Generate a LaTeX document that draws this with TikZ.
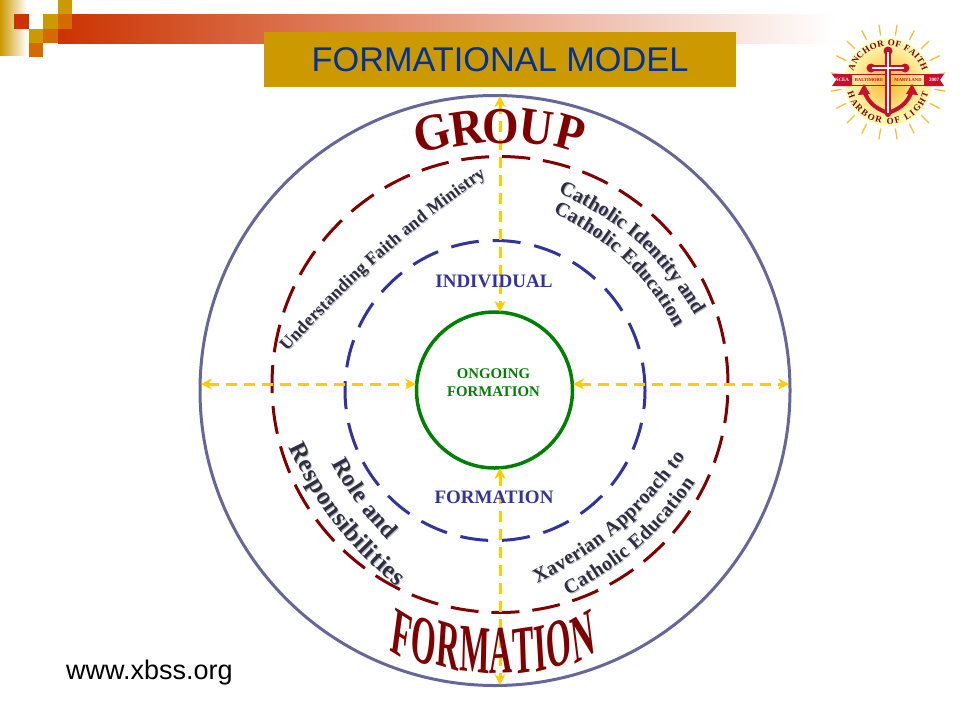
\documentclass[tikz,border=0pt]{standalone}
\usepackage{fontspec}
\setmainfont{Liberation Serif}
\newfontfamily\arialfont{Liberation Sans}
\usetikzlibrary{decorations.text,arrows.meta}
\definecolor{ringblue}{HTML}{666699}
\definecolor{ringred}{HTML}{800000}
\definecolor{ringnavy}{HTML}{333399}
\definecolor{ringgreen}{HTML}{008000}
\definecolor{arrowgold}{HTML}{FFCC00}
\definecolor{boxgold}{HTML}{CC9900}
\definecolor{barred}{HTML}{CC3300}
\definecolor{barpink}{HTML}{DB9C98}
\definecolor{barorange}{HTML}{D56A00}
\definecolor{titleblue}{HTML}{003399}
\definecolor{bentink}{HTML}{2E2E44}
\definecolor{bentshade}{HTML}{B8B8C2}
\definecolor{logored}{HTML}{C8102E}
\definecolor{logogold}{HTML}{F2C230}
\tikzset{
	ring/.style={circle,draw,inner sep=0pt},
	flow/.style={arrowgold,line width=3pt,dash pattern=on 11pt off 7pt,
		{Stealth[length=11pt,width=11pt]}-{Stealth[length=11pt,width=11pt]}},
	inner label/.style={ringnavy,font=\fontsize{19}{19}\selectfont\bfseries},
	big letter/.style={ringred,font=\fontsize{47}{47}\selectfont\bfseries,inner sep=0pt,yscale=1.1},
	tall letter/.style={ringred,font=\fontsize{40}{40}\selectfont\bfseries,inner sep=0pt,yscale=1.7,xscale=.8},
}
\newcommand{\bentlabel}[3]{
	\path[shift={(1,1)},decorate,decoration={text along path,text align=fit to path,
		text={|\fontsize{#3}{#3}\selectfont\bfseries\color{bentshade}|#2}}] #1;
	\path[decorate,decoration={text along path,text align=fit to path,
		text={|\fontsize{#3}{#3}\selectfont\bfseries\color{bentink}|#2}}] #1;
}
\begin{document}
\begin{tikzpicture}[x=1pt,y=-1pt]
	\useasboundingbox (0,0) rectangle (960,720);
	\fill[white] (0,0) rectangle (960,720);
	% header
	\shade[left color=barred,middle color=barpink,right color=white] (58,14) rectangle (835,43);
	\shade[left color=boxgold,right color=white] (0,0) rectangle (27,55);
	\fill[barred] (14,14) rectangle (29,29);
	\fill[boxgold] (43,14) rectangle (58,29);
	\fill[boxgold] (58,0) rectangle (72,14);
	\fill[barorange] (58,14) rectangle (72,29);
	\fill[boxgold] (29,29) rectangle (43,43);
	\fill[barorange] (43,29) rectangle (58,43);
	\fill[barorange] (29,43) rectangle (43,57);
	\node[fill=boxgold,minimum width=472pt,minimum height=55pt,inner sep=0pt,text=titleblue,
		font=\arialfont\fontsize{34.3}{34.3}\selectfont] (title) at (500,59.5) {FORMATIONAL MODEL};
	\node[anchor=base west,inner sep=0pt,font=\arialfont\fontsize{27}{27}\selectfont] (site) at (66,679) {www.xbss.org};
	% logo
	\fill[white] (832,24) rectangle (945,140);
	\foreach \a in {9,27,...,351}
		\draw[logogold,line width=1.3pt] (888,82)++(\a:47) -- ++(\a:11);
	\shade[inner color=logogold!85!orange,outer color=yellow!25] (888,82) circle (44);
	\path[decorate,decoration={text along path,text align=fit to path,
		text={|\fontsize{9}{9}\selectfont\bfseries\color{ringred}|ANCHOR OF FAITH}}]
		(888,82)++(-163:36) arc[start angle=-163,end angle=-17,radius=36];
	\path[decorate,decoration={text along path,text align=fit to path,
		text={|\fontsize{9}{9}\selectfont\bfseries\color{ringred}|HARBOR OF LIGHT}}]
		(888,82)++(165:42) arc[start angle=165,end angle=15,radius=42];
	\fill[logored] (832,74) -- (852,74) -- (852,86) -- (832,86) -- (836,80) -- cycle;
	\fill[logored] (944,74) -- (924,74) -- (924,86) -- (944,86) -- (940,80) -- cycle;
	\draw[logored,line width=.5pt] (852,74.5) -- (924,74.5) (852,85.5) -- (924,85.5);
	\node[white,inner sep=0pt,font=\fontsize{5}{5}\selectfont\bfseries] (ncea) at (842,80) {NCEA};
	\node[white,inner sep=0pt,font=\fontsize{5}{5}\selectfont\bfseries] (year) at (934,80) {2007};
	\node[logored,inner sep=0pt,font=\fontsize{4.6}{5}\selectfont\bfseries] (balt) at (869,80) {BALTIMORE};
	\node[logored,inner sep=0pt,font=\fontsize{4.6}{5}\selectfont\bfseries] (mary) at (908,80) {MARYLAND};
	\draw[logored,line width=6pt,line cap=round] (888,52) -- (888,114) (872,68) -- (904,68);
	\fill[logored] (888,51) circle (4.5) (871,68) circle (4.5) (905,68) circle (4.5);
	\draw[logored,line width=4pt,line cap=round] (864,90) .. controls (868,105) and (880,110) .. (888,113)
		.. controls (896,110) and (908,105) .. (912,90);
	\fill[logored] (864,84) -- (858,95) -- (870,94) -- cycle;
	\fill[logored] (912,84) -- (906,94) -- (918,95) -- cycle;
	\draw[white,line width=1.2pt] (888,52) -- (888,113) (872,68) -- (904,68);
	% rings
	\node[ring,ringblue,line width=3pt,minimum size=590pt] (outer) at (495,390.5) {};
	\node[ring,ringred,line width=3pt,minimum size=456pt,dash pattern=on 28pt off 13pt] (group) at (500,384.5) {};
	\node[ring,ringnavy,line width=3pt,minimum size=300pt,dash pattern=on 28pt off 14pt] (indiv) at (495,390.5) {};
	\node[ring,ringgreen,line width=3.5pt,minimum size=156pt] (ongoing) at (494.5,390) {};
	% arrows
	\coordinate (topend) at (500,96);
	\coordinate (topin) at (500,312);
	\coordinate (botin) at (500,468);
	\coordinate (botend) at (500,685);
	\coordinate (leftend) at (201,384);
	\coordinate (leftin) at (416,384);
	\coordinate (rightin) at (573,384);
	\coordinate (rightend) at (789,384);
	\draw[flow] (topend) -- (topin);
	\draw[flow] (botin) -- (botend);
	\draw[flow] (leftend) -- (leftin);
	\draw[flow] (rightin) -- (rightend);
	% labels
	\node[align=center,text=ringgreen,font=\fontsize{14.8}{18}\selectfont\bfseries] (ongoinglabel) at (493.5,383) {ONGOING\\FORMATION};
	\node[inner label] (individual) at (494,281) {INDIVIDUAL};
	\node[inner label] (formation) at (494,497) {FORMATION};
	\bentlabel{(287,352) to[bend left=6] (486,176)}{Understanding Faith and Ministry}{17.8}
	\bentlabel{(558,193) to[bend left=17] (693,312)}{Catholic Identity and}{20.5}
	\bentlabel{(553,213) to[bend left=17] (675,328)}{Catholic Education}{20}
	\bentlabel{(332,463) to[bend right=8] (388,540)}{Role and}{24}
	\bentlabel{(289,447) to[bend right=12] (397,587)}{Responsibilities}{25}
	\bentlabel{(537,583) to[bend right=13] (685,457)}{Xaverian Approach to}{20}
	\bentlabel{(568,595) to[bend right=13] (695,483)}{Catholic Education}{20}
	% big words
	\foreach \ch/\x/\y/\r [count=\i] in {G/432/133/15,R/467/128/8,O/501/127/0,U/536/128/-8,P/570/133/-15}
		\node[big letter,rotate=\r] (group\i) at (\x,\y) {\ch};
	\foreach \ch/\x/\y/\r [count=\i] in {F/402/635/-16,O/424/641/-12,R/448/646/-8,M/475/650/-3,A/501/651/1,T/523/651/4,I/540/649/7,O/559/644/11,N/583/637/15}
		\node[tall letter,rotate=\r] (word\i) at (\x,\y) {\ch};
\end{tikzpicture}
\end{document}
